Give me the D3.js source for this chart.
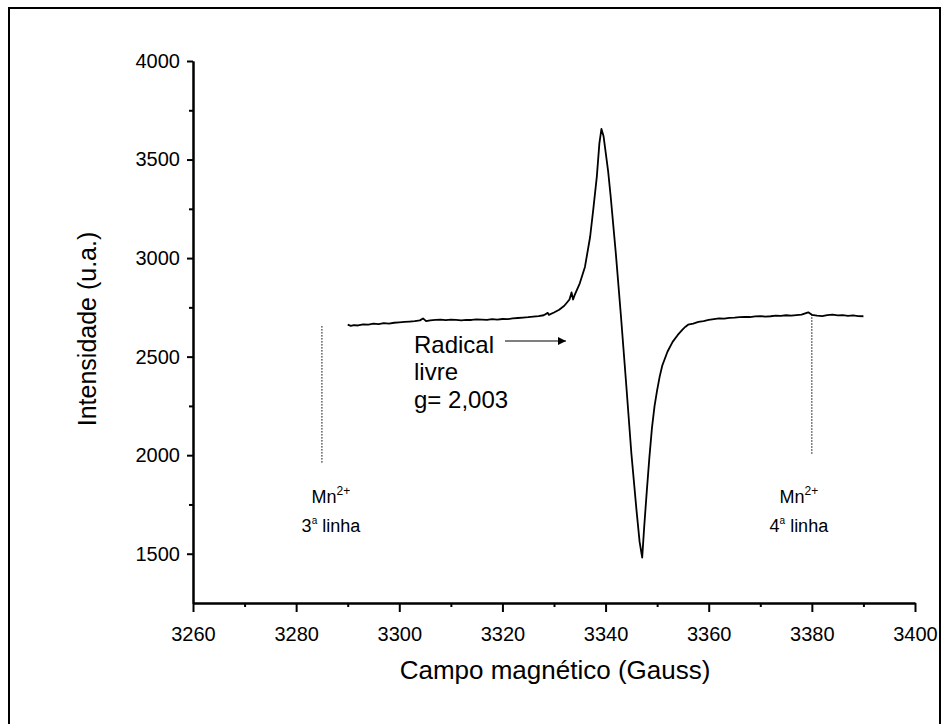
<!DOCTYPE html>
<html>
<head>
<meta charset="utf-8">
<script src="https://cdn.jsdelivr.net/npm/d3@7"></script>
<style>
  body { margin: 0; background: #fff; }
  svg { display: block; font-family: Arial, "Liberation Sans", sans-serif; }
</style>
</head>
<body>
<svg width="941" height="724"></svg>
<script>
// EPR spectrum
const field = [
  3290, 3290.6, 3291.2, 3292, 3293, 3294, 3295, 3296, 3297, 3298, 3299, 3300,
  3301, 3302, 3303, 3304, 3304.6, 3305.2, 3306, 3307, 3308, 3309, 3310, 3311,
  3312, 3313, 3314, 3315, 3316, 3317, 3318, 3319, 3320, 3321, 3322, 3323,
  3324, 3325, 3326, 3327, 3328, 3328.8, 3329, 3330, 3331, 3332, 3333,
  3333.4, 3333.7, 3334, 3335, 3336, 3337, 3337.6, 3338.3, 3338.8, 3339.2,
  3339.6, 3340, 3340.5, 3341, 3342, 3343, 3344, 3345, 3346,
  3346.6, 3347.1, 3347.5, 3348, 3348.5, 3349, 3349.5, 3350, 3350.5, 3351,
  3352, 3353, 3354, 3355, 3355.5, 3356, 3357, 3358, 3359, 3360, 3361, 3362, 3363,
  3364, 3365, 3366, 3367, 3368, 3369, 3370, 3371, 3372, 3373, 3374, 3375,
  3376, 3377, 3378, 3379.3, 3380, 3381, 3382, 3383, 3384, 3385, 3386, 3387,
  3388, 3389, 3390
];
const intensity = [
  2662, 2656, 2660, 2658, 2664, 2662, 2667, 2665, 2670, 2668, 2672, 2674,
  2676, 2678, 2680, 2684, 2694, 2680, 2684, 2686, 2688, 2685, 2688, 2686,
  2684, 2687, 2686, 2689, 2688, 2686, 2690, 2688, 2691, 2690, 2694, 2696,
  2698, 2700, 2703, 2706, 2710, 2722, 2712, 2724, 2738, 2758, 2790,
  2826, 2790, 2812, 2872, 2955, 3107, 3243, 3412, 3582, 3655,
  3620, 3540, 3440, 3310, 3020, 2700, 2360, 2010, 1720,
  1560, 1480, 1640, 1820, 1990, 2140, 2250, 2330, 2400, 2455,
  2525, 2575, 2610, 2640, 2652, 2662, 2668, 2676, 2680, 2686, 2690, 2694, 2693,
  2697, 2698, 2700, 2702, 2701, 2704, 2706, 2703, 2705, 2708, 2707, 2710,
  2708, 2711, 2713, 2725, 2712, 2708, 2706, 2711, 2713, 2709, 2711, 2707,
  2709, 2706, 2705
];

// Mn2+ marker lines
const mnField = [3285, 3380];
const mnTop = [2655, 2715];
const mnBottom = [1960, 2000];
const mnLine = ["3", "4"];

const xTicks = [3260, 3280, 3300, 3320, 3340, 3360, 3380, 3400];
const yTicks = [1500, 2000, 2500, 3000, 3500, 4000];

const svg = d3.select("svg");

// outer frame
svg.append("rect")
  .attr("x", 9).attr("y", 8)
  .attr("width", 931).attr("height", 730)
  .attr("fill", "none").attr("stroke", "#000").attr("stroke-width", 2);

const x = d3.scaleLinear().domain([3260, 3400]).range([193, 915]);
const y = d3.scaleLinear().domain([1250, 4000]).range([603, 61]);

// axes
const fmt = d3.format("d");
const xAxis = d3.axisBottom(x).tickValues(xTicks).tickFormat(fmt).tickSize(9).tickPadding(15).tickSizeOuter(0);
const xMinor = d3.axisBottom(x).tickValues(d3.range(3270, 3400, 20)).tickSize(4).tickFormat("").tickSizeOuter(0);
const yAxis = d3.axisLeft(y).tickValues(yTicks).tickFormat(fmt).tickSize(6).tickPadding(7).tickSizeOuter(0);
const yMinor = d3.axisLeft(y).tickValues([1750, 2250, 2750, 3250, 3750]).tickSize(4).tickFormat("").tickSizeOuter(0);

svg.append("g").attr("transform", "translate(0,603)").call(xAxis);
svg.append("g").attr("transform", "translate(0,603)").call(xMinor);
svg.append("g").attr("transform", "translate(193,0)").call(yAxis);
svg.append("g").attr("transform", "translate(193,0)").call(yMinor);

svg.selectAll(".domain, .tick line").attr("stroke", "#000").attr("stroke-width", 2);
svg.selectAll(".tick text").attr("font-size", 20).attr("fill", "#000")
  .attr("font-family", "Arial, 'Liberation Sans', sans-serif");

// axis titles
svg.append("text")
  .attr("x", 555).attr("y", 679)
  .attr("text-anchor", "middle").attr("font-size", 26)
  .text("Campo magnético (Gauss)");
svg.append("text")
  .attr("transform", "translate(96,329) rotate(-90)")
  .attr("text-anchor", "middle").attr("font-size", 25)
  .text("Intensidade (u.a.)");

// spectrum
const pts = field.map((f, i) => [f, intensity[i]]);
svg.append("path")
  .datum(pts)
  .attr("fill", "none").attr("stroke", "#000").attr("stroke-width", 1.8)
  .attr("stroke-linejoin", "round")
  .attr("d", d3.line().x(d => x(d[0])).y(d => y(d[1])));

// Mn2+ markers
mnField.forEach((f, i) => {
  svg.append("line")
    .attr("x1", x(f)).attr("x2", x(f))
    .attr("y1", y(mnTop[i])).attr("y2", y(mnBottom[i]))
    .attr("stroke", "#000").attr("stroke-width", 1)
    .attr("stroke-dasharray", "1.5,1.5");
  const cx = x(f) + (i === 0 ? 9 : -13);
  const t1 = svg.append("text").attr("x", cx).attr("y", 503)
    .attr("text-anchor", "middle").attr("font-size", 18);
  t1.append("tspan").text("Mn");
  t1.append("tspan").attr("font-size", 12).attr("dy", -8).text("2+");
  const t2 = svg.append("text").attr("x", cx).attr("y", 532)
    .attr("text-anchor", "middle").attr("font-size", 18);
  t2.append("tspan").text(mnLine[i]);
  t2.append("tspan").attr("font-size", 10).attr("dy", -8).text("a");
  t2.append("tspan").attr("dy", 8).text(" linha");
});

// free radical annotation
const ann = svg.append("text").attr("font-size", 24);
ann.append("tspan").attr("x", 414).attr("y", 353).text("Radical");
ann.append("tspan").attr("x", 414).attr("y", 380).text("livre");
ann.append("tspan").attr("x", 414).attr("y", 408).text("g= 2,003");

svg.append("defs").append("marker")
  .attr("id", "arr").attr("viewBox", "0 0 10 10")
  .attr("refX", 10).attr("refY", 5)
  .attr("markerWidth", 17).attr("markerHeight", 8)
  .attr("markerUnits", "userSpaceOnUse")
  .attr("orient", "auto")
  .append("path").attr("d", "M0,0L10,5L0,10Z").attr("fill", "#000");
svg.append("line")
  .attr("x1", 505).attr("y1", 341).attr("x2", 566).attr("y2", 341)
  .attr("stroke", "#000").attr("stroke-width", 1.2)
  .attr("marker-end", "url(#arr)");
</script>
</body>
</html>
